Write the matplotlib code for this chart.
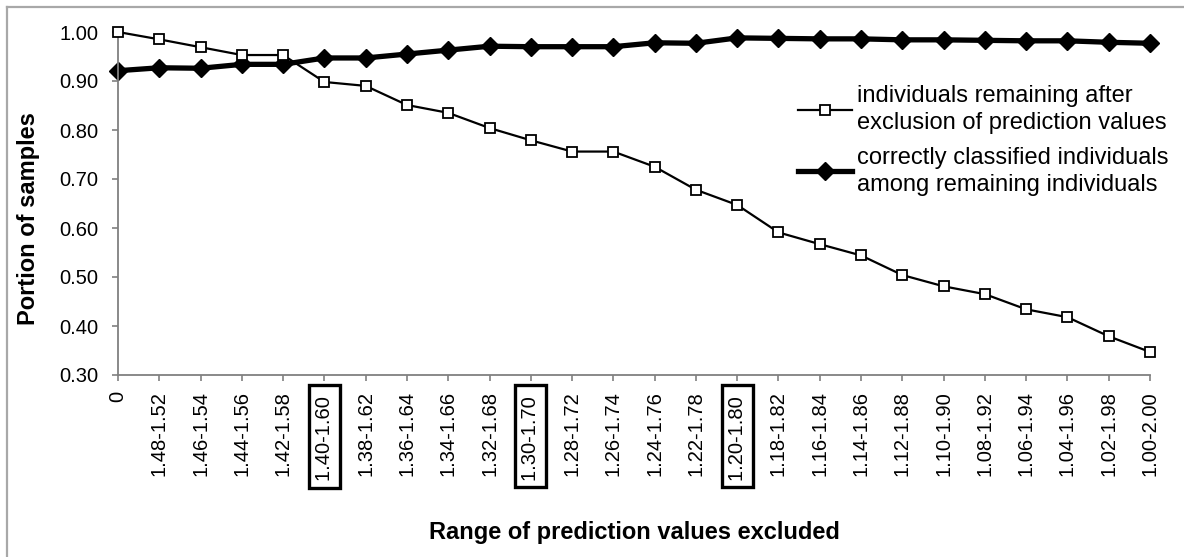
import matplotlib
matplotlib.use('Agg')
import matplotlib.pyplot as plt
from matplotlib.lines import Line2D

plt.rcParams['font.family'] = ['Liberation Sans', 'DejaVu Sans']

# x categories: range of prediction values excluded
ranges = ['0', '1.48-1.52', '1.46-1.54', '1.44-1.56', '1.42-1.58', '1.40-1.60',
          '1.38-1.62', '1.36-1.64', '1.34-1.66', '1.32-1.68', '1.30-1.70',
          '1.28-1.72', '1.26-1.74', '1.24-1.76', '1.22-1.78', '1.20-1.80',
          '1.18-1.82', '1.16-1.84', '1.14-1.86', '1.12-1.88', '1.10-1.90',
          '1.08-1.92', '1.06-1.94', '1.04-1.96', '1.02-1.98', '1.00-2.00']
boxed = ['1.40-1.60', '1.30-1.70', '1.20-1.80']

remaining = [1.000, 0.985, 0.969, 0.953, 0.953, 0.898, 0.890, 0.851, 0.835,
             0.804, 0.779, 0.756, 0.756, 0.725, 0.678, 0.647, 0.591, 0.567,
             0.544, 0.504, 0.481, 0.465, 0.434, 0.418, 0.379, 0.347]
correct = [0.921, 0.927, 0.926, 0.934, 0.934, 0.947, 0.947, 0.955, 0.963,
           0.971, 0.970, 0.970, 0.970, 0.978, 0.977, 0.988, 0.987, 0.986,
           0.986, 0.984, 0.984, 0.983, 0.982, 0.982, 0.979, 0.977]

lab1 = 'individuals remaining after\nexclusion of prediction values'
lab2 = 'correctly classified individuals\namong remaining individuals'

W, H = 1184, 557
fig = plt.figure(figsize=(W / 100, H / 100), dpi=100)
ax = fig.add_axes([118 / W, 1 - 375 / H, (1150 - 118) / W, (375 - 32) / H])

x = list(range(len(ranges)))
ax.plot(x, correct, color='black', lw=3.8, marker='D', ms=9,
        mfc='black', mec='black', label=lab2, clip_on=False, zorder=2)
ax.plot(x, remaining, color='black', lw=1.6, marker='s', ms=6.5,
        mfc='white', mec='black', mew=1.3, label=lab1, clip_on=False, zorder=3)

ax.set_xlim(0, len(ranges) - 1)
ax.set_ylim(0.30, 1.00)
ax.set_yticks([0.3, 0.4, 0.5, 0.6, 0.7, 0.8, 0.9, 1.0])
ax.set_yticklabels(['%.2f' % v for v in ax.get_yticks()])
ax.set_xticks(x)
# a trailing space gives the boxed labels a little more room at the bottom
ax.set_xticklabels([r + ' ' if r in boxed else r for r in ranges],
                   rotation=90, va='top', ha='center')

for s in ['top', 'right']:
    ax.spines[s].set_visible(False)
for s in ['left', 'bottom']:
    ax.spines[s].set_color('#808080')
    ax.spines[s].set_linewidth(1.3)

ax.tick_params(axis='both', colors='#808080', labelcolor='black',
               direction='out', length=4, width=1.2, labelsize=14.5)
ax.tick_params(axis='x', pad=7.5)
ax.tick_params(axis='y', pad=10)

for t in ax.get_xticklabels():
    if t.get_text().strip() in boxed:
        t.set_bbox(dict(boxstyle='square,pad=0.3', facecolor='none',
                        edgecolor='black', linewidth=2.4))

ax.set_ylabel('Portion of samples', fontsize=17, fontweight='bold')
ax.yaxis.set_label_coords(-(118 - 40) / 1032, (375 - 219) / 343)
ax.set_xlabel('Range of prediction values excluded', fontsize=17,
              fontweight='bold', va='center')
ax.xaxis.set_label_coords(0.5, -(532 - 375) / 343)

# handles listed in the legend order of the original
h, l = ax.get_legend_handles_labels()
leg = ax.legend(h[::-1], l[::-1], loc='upper left',
                bbox_to_anchor=(798 / W, 1 - 85 / H),
                bbox_transform=fig.transFigure, frameon=False, fontsize=17,
                handlelength=2.3, handletextpad=0.2, labelspacing=0.55,
                borderpad=0, borderaxespad=0)
for t in leg.get_texts():
    t.set_linespacing(1.28)

# grey frame on the left and top of the picture
fig.add_artist(Line2D([7 / W, 7 / W], [0, 1 - 7 / H], color='#a8a8a8', lw=1.6))
fig.add_artist(Line2D([7 / W, 1], [1 - 7 / H, 1 - 7 / H], color='#a8a8a8', lw=1.6))

fig.savefig('out.png', dpi=100)
